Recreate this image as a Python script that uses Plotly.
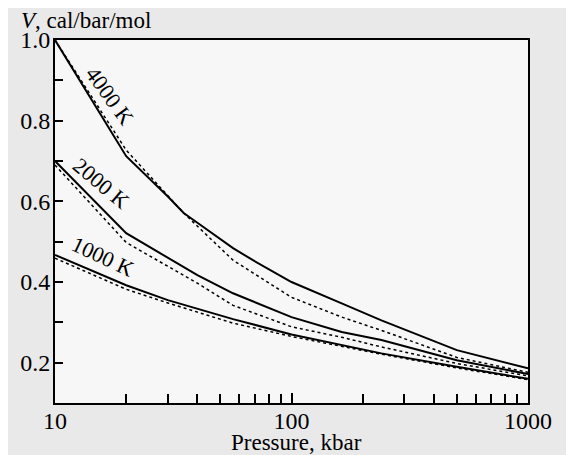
import math
import plotly.graph_objects as go

# Pressure (kbar) and molar volume V (cal/bar/mol)
p_4000_solid = [10, 20, 30, 35, 40, 50, 56.6, 68.7, 100, 163, 240, 500, 1000]
v_4000_solid = [1.0, 0.712, 0.612, 0.571, 0.547, 0.507, 0.484, 0.454, 0.40, 0.347, 0.305, 0.231, 0.186]
p_4000_dot = [10, 15, 20, 35, 56.6, 100, 163, 240, 500, 1000]
v_4000_dot = [1.0, 0.84, 0.727, 0.571, 0.454, 0.362, 0.313, 0.280, 0.213, 0.176]

p_2000_solid = [10, 20, 40, 56.6, 100, 163, 240, 500, 1000]
v_2000_solid = [0.70, 0.521, 0.417, 0.372, 0.313, 0.276, 0.256, 0.206, 0.172]
p_2000_dot = [10, 20, 40, 56.6, 100, 163, 240, 500, 1000]
v_2000_dot = [0.69, 0.498, 0.397, 0.342, 0.289, 0.263, 0.239, 0.198, 0.167]

p_1000_solid = [10, 20, 30, 56.6, 100, 163, 240, 500, 1000]
v_1000_solid = [0.467, 0.392, 0.355, 0.308, 0.270, 0.243, 0.223, 0.190, 0.160]
p_1000_dot = [10, 20, 30, 56.6, 100, 163, 240, 500, 1000]
v_1000_dot = [0.459, 0.382, 0.348, 0.298, 0.265, 0.240, 0.221, 0.187, 0.158]

curve_labels = ["4000 K", "2000 K", "1000 K"]
label_p = [17.0, 15.7, 15.9]
label_v = [0.862, 0.643, 0.462]
label_angle = [54, 40, 25]

x_ticks = [10, 100, 1000]
x_ticktext = ["10", "100", "1000"]
x_minor = [20, 30, 40, 50, 60, 70, 80, 90, 200, 300, 400, 500, 600, 700, 800, 900]
y_ticks = [0.2, 0.4, 0.6, 0.8, 1.0]
y_ticktext = ["0.2", "0.4", "0.6", "0.8", "1.0"]
y_minor = [0.3, 0.5, 0.7, 0.9]

FONT = "Liberation Serif, Times New Roman, serif"

fig = go.Figure()
solid = dict(color="black", width=2)
dotted = dict(color="black", width=1.5, dash="dot")
for px, py, ln in [
    (p_4000_solid, v_4000_solid, solid), (p_4000_dot, v_4000_dot, dotted),
    (p_2000_solid, v_2000_solid, solid), (p_2000_dot, v_2000_dot, dotted),
    (p_1000_solid, v_1000_solid, solid), (p_1000_dot, v_1000_dot, dotted),
]:
    fig.add_trace(go.Scatter(x=px, y=py, mode="lines", line=ln, showlegend=False,
                             hoverinfo="skip"))

for t, xp, yv, ang in zip(curve_labels, label_p, label_v, label_angle):
    fig.add_annotation(x=math.log10(xp), y=yv, text=t, showarrow=False, textangle=ang,
                       font=dict(family=FONT, size=22, color="black"))

fig.add_annotation(xref="paper", yref="paper", x=-0.076, y=1.054, xanchor="left",
                   yanchor="middle", showarrow=False,
                   text="<i>V</i>, cal/bar/mol",
                   font=dict(family=FONT, size=23, color="black"))
fig.add_annotation(xref="paper", yref="paper", x=0.51, y=-0.11, xanchor="center",
                   yanchor="middle", showarrow=False, text="Pressure, kbar",
                   font=dict(family=FONT, size=23, color="black"))

fig.update_layout(
    width=566, height=447,
    margin=dict(l=42, r=46, t=32, b=52),
    paper_bgcolor="#e9e9e9",
    plot_bgcolor="#f7f7f7",
    font=dict(family=FONT, size=24, color="black"),
    showlegend=False,
)
fig.update_xaxes(type="log", range=[1, 3], tickvals=x_ticks, ticktext=x_ticktext,
                 ticks="inside", ticklen=10, tickwidth=1.5, tickcolor="black",
                 ticklabelstandoff=-5,
                 minor=dict(tickvals=x_minor, ticks="inside", ticklen=9,
                            tickwidth=1.5, tickcolor="black"),
                 showgrid=False, zeroline=False, showline=True, linecolor="black",
                 linewidth=2, mirror=True,
                 tickfont=dict(family=FONT, size=24, color="black"))
fig.update_yaxes(range=[0.1, 1.0], tickvals=y_ticks, ticktext=y_ticktext,
                 ticks="inside", ticklen=8, tickwidth=1.5, tickcolor="black",
                 ticklabelstandoff=-2,
                 minor=dict(tickvals=y_minor, ticks="inside", ticklen=8,
                            tickwidth=1.5, tickcolor="black"),
                 showgrid=False, zeroline=False, showline=True, linecolor="black",
                 linewidth=2, mirror=True,
                 tickfont=dict(family=FONT, size=24, color="black"))

fig.write_html("out.html")
